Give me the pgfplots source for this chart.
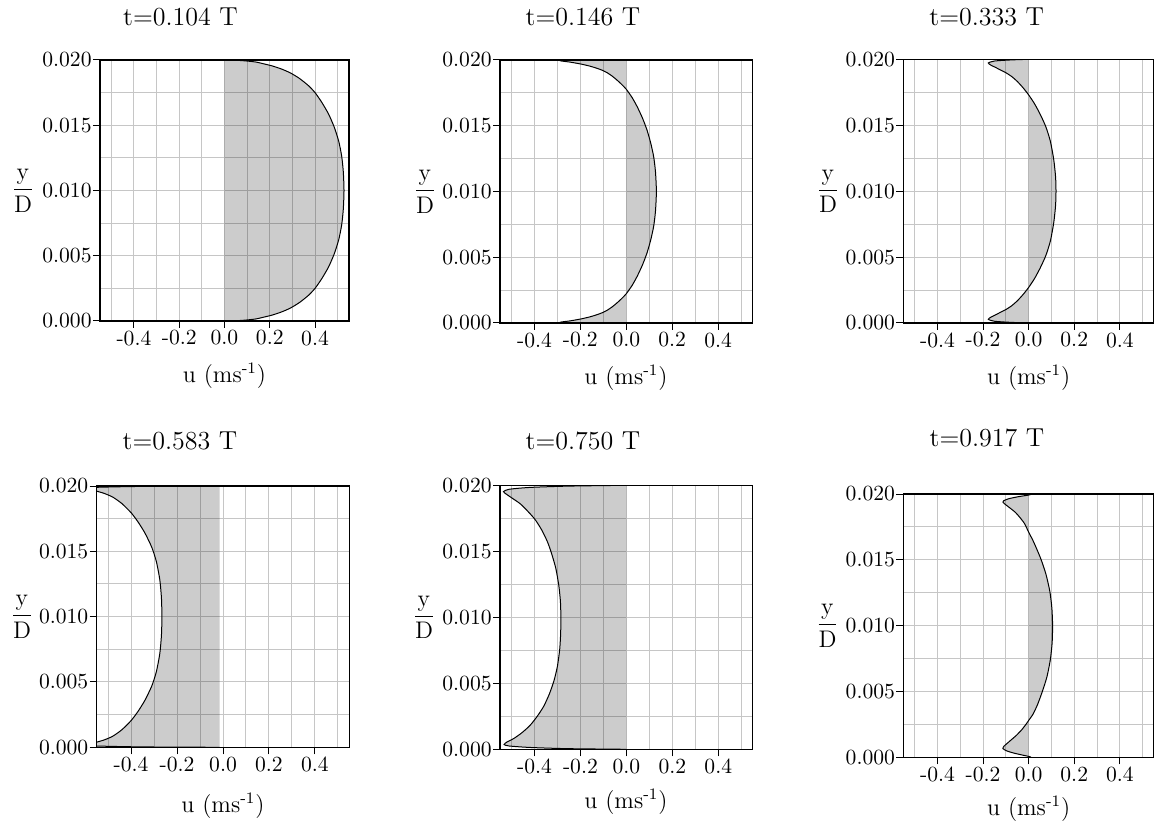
\documentclass[border=0pt]{standalone}
\usepackage{pgfplots}
\pgfplotsset{compat=1.18}
\usepackage{pgfplotstable}

\pgfplotstableread{
u y
0 0
0.06 0.00003
0.10 0.00008
0.14 0.00016
0.17 0.00028
0.21 0.00045
0.25 0.00068
0.29 0.00098
0.33 0.00140
0.37 0.00195
0.40 0.00250
0.43 0.00325
0.46 0.00415
0.485 0.00515
0.505 0.00625
0.518 0.00740
0.525 0.00860
0.528 0.01000
0.525 0.01140
0.518 0.01260
0.505 0.01375
0.485 0.01485
0.46 0.01585
0.43 0.01675
0.40 0.01750
0.37 0.01805
0.33 0.01860
0.29 0.01902
0.25 0.01932
0.21 0.01955
0.17 0.01972
0.14 0.01984
0.10 0.01992
0.06 0.01997
0 0.02
}\tA

\pgfplotstableread{
u y
0 0
-0.20 0.00001
-0.288 0.00005
-0.245 0.00016
-0.20 0.00030
-0.16 0.00046
-0.128 0.00063
-0.105 0.00078
-0.084 0.00096
-0.062 0.00122
-0.041 0.00152
-0.020 0.00186
0.000 0.00223
0.025 0.00285
0.047 0.00354
0.070 0.00440
0.090 0.00532
0.106 0.00630
0.119 0.00734
0.127 0.00850
0.131 0.01000
0.127 0.01150
0.119 0.01266
0.106 0.01370
0.090 0.01468
0.070 0.01560
0.047 0.01646
0.025 0.01715
0.000 0.01777
-0.020 0.01814
-0.041 0.01848
-0.062 0.01878
-0.084 0.01904
-0.105 0.01922
-0.128 0.01937
-0.16 0.01954
-0.20 0.01970
-0.245 0.01984
-0.288 0.01995
-0.20 0.01999
0 0.02
}\tB

\pgfplotstableread{
u y
0 0
-0.08 0.00005
-0.15 0.00013
-0.177 0.00028
-0.165 0.00045
-0.145 0.00062
-0.125 0.00080
-0.10 0.00102
-0.075 0.00130
-0.05 0.00168
-0.025 0.00215
0.00 0.00270
0.025 0.00335
0.05 0.00415
0.075 0.00510
0.095 0.00620
0.11 0.00760
0.118 0.00890
0.12 0.01000
0.118 0.01110
0.11 0.01240
0.095 0.01380
0.075 0.01490
0.05 0.01585
0.025 0.01665
0.00 0.01730
-0.025 0.01785
-0.05 0.01832
-0.075 0.01870
-0.10 0.01898
-0.125 0.01920
-0.145 0.01938
-0.165 0.01955
-0.177 0.01972
-0.15 0.01987
-0.08 0.01995
0 0.02
}\tC

\pgfplotstableread{
u y
-0.015 0
-0.35 0.00003
-0.55 0.00010
-0.60 0.00020
-0.57 0.00030
-0.52 0.00055
-0.48 0.00085
-0.44 0.00135
-0.40 0.00205
-0.37 0.00275
-0.34 0.00360
-0.31 0.00470
-0.29 0.00580
-0.275 0.00720
-0.268 0.00860
-0.266 0.01000
-0.268 0.01140
-0.275 0.01280
-0.29 0.01420
-0.31 0.01530
-0.34 0.01640
-0.37 0.01725
-0.40 0.01795
-0.44 0.01865
-0.48 0.01915
-0.52 0.01945
-0.57 0.01970
-0.60 0.01980
-0.55 0.01990
-0.35 0.01997
-0.015 0.02
}\tD

\pgfplotstableread{
u y
0 0
-0.26 0.00005
-0.42 0.00014
-0.51 0.00025
-0.532 0.00036
-0.52 0.00055
-0.49 0.00082
-0.455 0.00125
-0.42 0.00180
-0.39 0.00245
-0.36 0.00325
-0.335 0.00420
-0.315 0.00520
-0.30 0.00630
-0.29 0.00760
-0.286 0.00880
-0.285 0.01000
-0.287 0.01120
-0.294 0.01240
-0.307 0.01370
-0.325 0.01480
-0.343 0.01570
-0.368 0.01660
-0.397 0.01740
-0.43 0.01805
-0.462 0.01860
-0.495 0.01900
-0.52 0.01930
-0.535 0.01952
-0.51 0.01970
-0.42 0.01984
-0.25 0.01994
0 0.02
}\tE

\pgfplotstableread{
u y
0 0
0.01 0
0.005 0.00005
-0.03 0.00018
-0.065 0.00032
-0.095 0.00048
-0.113 0.00066
-0.108 0.00085
-0.093 0.00108
-0.075 0.00135
-0.055 0.00165
-0.03 0.00210
-0.01 0.00255
0.00 0.00280
0.02 0.00330
0.04 0.00405
0.06 0.00500
0.08 0.00610
0.095 0.00740
0.103 0.00870
0.105 0.01000
0.102 0.01130
0.093 0.01260
0.076 0.01390
0.055 0.01500
0.036 0.01580
0.018 0.01650
0.000 0.01710
-0.018 0.01775
-0.040 0.01825
-0.058 0.01860
-0.083 0.01895
-0.102 0.01920
-0.113 0.01938
-0.110 0.01948
-0.088 0.01964
-0.044 0.01980
0.0 0.01992
0.015 0.02
0 0.02
}\tF

\pgfplotsset{
  panel/.style={
    scale only axis, anchor=south west,
    xmin=-0.55, xmax=0.55, ymin=0, ymax=0.02,
    xtick={-0.4,-0.2,0,0.2,0.4},
    xticklabels={-0.4,-0.2,0.0,0.2,0.4},
    ytick={0,0.005,0.01,0.015,0.02},
    yticklabels={0.000,0.005,0.010,0.015,0.020},
    minor xtick={-0.5,-0.3,-0.1,0.1,0.3,0.5},
    minor ytick={0.0025,0.0075,0.0125,0.0175},
    grid=both,
    major grid style={gray!45, line width=0.5pt},
    minor grid style={gray!45, line width=0.5pt},
    xtick pos=left, ytick pos=left,
    tick align=outside,
    major tick length=3.5pt, minor tick length=0pt,
    tick style={black, line width=0.5pt},
    axis line style={black, line width=0.6pt},
    scaled x ticks=false, scaled y ticks=false,
    xticklabel style={font=\fontsize{10.8}{12}\selectfont, inner sep=1pt},
    yticklabel style={font=\fontsize{10.8}{12}\selectfont, inner xsep=0.5pt},
  },
  fillp/.style={draw=none, fill=black, fill opacity=0.2, smooth, tension=0.4},
  linep/.style={black, line width=0.5pt, smooth, tension=0.4},
}

\begin{document}
\begin{tikzpicture}
\path[use as bounding box] (0,0) rectangle (577pt,412.5pt);

\begin{axis}[panel, at={(50pt,252pt)}, width=124.5pt, height=130.5pt]
\addplot[fillp] table[x=u,y=y]{\tA} -- cycle;
\addplot[linep] table[x=u,y=y]{\tA};
\end{axis}

\begin{axis}[panel, at={(250pt,251pt)}, width=126.3pt, height=131.5pt]
\addplot[fillp] table[x=u,y=y]{\tB} -- cycle;
\addplot[linep] table[x=u,y=y]{\tB};
\end{axis}

\begin{axis}[panel, at={(451.65pt,251pt)}, width=125.35pt, height=131.85pt]
\addplot[fillp] table[x=u,y=y]{\tC} -- cycle;
\addplot[linep] table[x=u,y=y]{\tC};
\end{axis}

\begin{axis}[panel, at={(48.35pt,38.85pt)}, width=126.3pt, height=130.65pt]
\addplot[fillp] table[x=u,y=y]{\tD} -- cycle;
\addplot[linep] table[x=u,y=y]{\tD};
\end{axis}

\begin{axis}[panel, at={(250pt,37.85pt)}, width=126.35pt, height=132pt]
\addplot[fillp] table[x=u,y=y]{\tE} -- cycle;
\addplot[linep] table[x=u,y=y]{\tE};
\end{axis}

\begin{axis}[panel, at={(451.65pt,33.85pt)}, width=125.35pt, height=131.65pt]
\addplot[fillp] table[x=u,y=y]{\tF} -- cycle;
\addplot[linep] table[x=u,y=y]{\tF};
\end{axis}

\begin{scope}[every node/.style={font=\fontsize{13}{15}\selectfont}]
\node at (90.25pt,404.15pt) {t=0.104 T};
\node at (291.5pt,404.15pt) {t=0.146 T};
\node at (493.35pt,404.15pt) {t=0.333 T};
\node at (90pt,192pt) {t=0.583 T};
\node at (291.5pt,192pt) {t=0.750 T};
\node at (493.5pt,193.5pt) {t=0.917 T};
\end{scope}
\begin{scope}[every node/.style={font=\fontsize{12}{14}\selectfont}]
\node at (112.25pt,224.5pt) {u (ms\textsuperscript{-1})};
\node at (313pt,223.5pt) {u (ms\textsuperscript{-1})};
\node at (514.35pt,223.5pt) {u (ms\textsuperscript{-1})};
\node at (111.5pt,9.5pt) {u (ms\textsuperscript{-1})};
\node at (313pt,11.5pt) {u (ms\textsuperscript{-1})};
\node at (514.35pt,8pt) {u (ms\textsuperscript{-1})};
\end{scope}
\begin{scope}[every node/.style={font=\fontsize{12}{14}\selectfont}]
\node at (11.5pt,317.25pt) {$\displaystyle\frac{\mathrm{y}}{\mathrm{D}}$};
\node at (212.5pt,316.75pt) {$\displaystyle\frac{\mathrm{y}}{\mathrm{D}}$};
\node at (414pt,316.9pt) {$\displaystyle\frac{\mathrm{y}}{\mathrm{D}}$};
\node at (11pt,104.2pt) {$\displaystyle\frac{\mathrm{y}}{\mathrm{D}}$};
\node at (212pt,103.85pt) {$\displaystyle\frac{\mathrm{y}}{\mathrm{D}}$};
\node at (413.75pt,99.7pt) {$\displaystyle\frac{\mathrm{y}}{\mathrm{D}}$};
\end{scope}
\end{tikzpicture}
\end{document}
